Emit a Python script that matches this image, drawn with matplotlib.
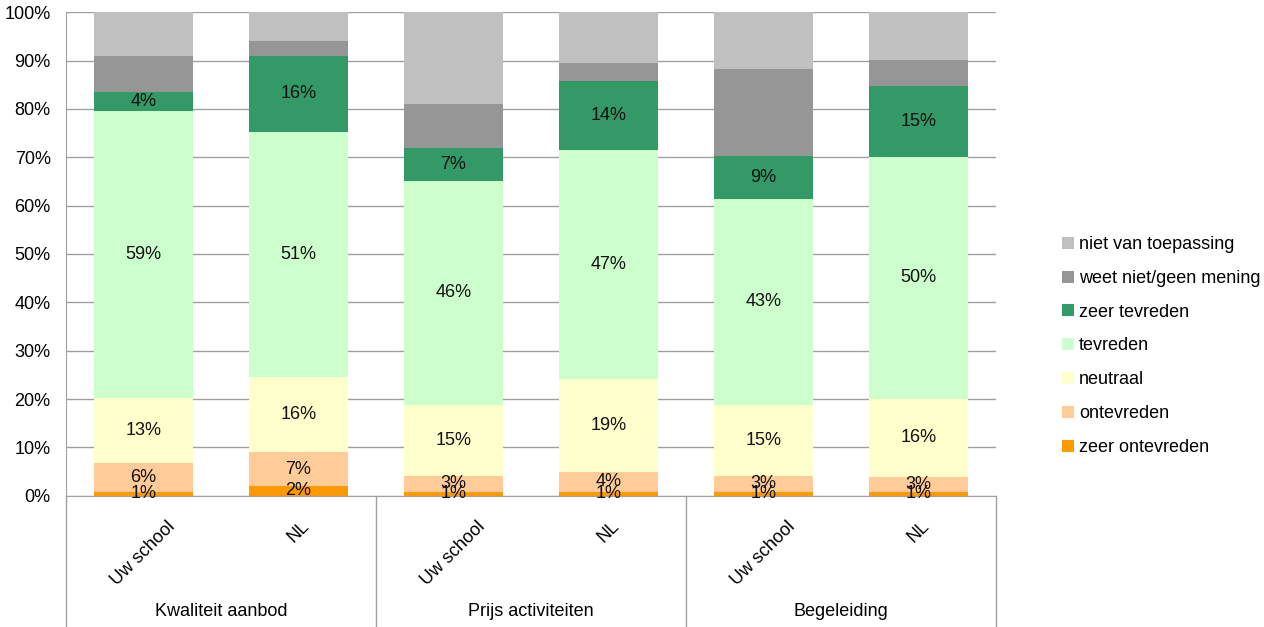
import matplotlib.pyplot as plt
from matplotlib.lines import Line2D

plt.rcParams['font.family'] = ['Liberation Sans', 'DejaVu Sans']

# data (percent)
groups = ["Kwaliteit aanbod", "Prijs activiteiten", "Begeleiding"]
bars = ["Uw school", "NL", "Uw school", "NL", "Uw school", "NL"]
series = ["zeer ontevreden", "ontevreden", "neutraal", "tevreden",
          "zeer tevreden", "weet niet/geen mening", "niet van toepassing"]
zeer_ontevreden = [0.8, 2.0, 0.8, 0.8, 0.8, 0.8]
ontevreden = [6.0, 7.0, 3.3, 4.1, 3.3, 3.1]
neutraal = [13.4, 15.6, 14.7, 19.2, 14.7, 16.1]
tevreden = [59.4, 50.6, 46.3, 47.5, 42.6, 50.1]
zeer_tevreden = [4.0, 15.8, 6.8, 14.1, 8.9, 14.7]
weet_niet = [7.4, 3.1, 9.1, 3.9, 17.9, 5.4]
niet_van_toepassing = [9.0, 5.9, 19.0, 10.4, 11.8, 9.8]

values = [zeer_ontevreden, ontevreden, neutraal, tevreden,
          zeer_tevreden, weet_niet, niet_van_toepassing]
colors = ["#FF9900", "#FFCC99", "#FFFFCC", "#CCFFCC",
          "#339966", "#969696", "#C0C0C0"]
labelled = 5  # only the first five series get data labels
fs = 13

W, H = 1264, 627
fig = plt.figure(figsize=(W / 100, H / 100), dpi=100)
ax = fig.add_axes([66 / W, (H - 495.7) / H, 930 / W, 483.4 / H])

x = list(range(len(bars)))
bottom = [0.0] * len(bars)
handles = []
for k, (name, vals, col) in enumerate(zip(series, values, colors)):
    b = ax.bar(x, vals, width=0.645, bottom=bottom, color=col,
               label=name, zorder=2)
    handles.append(b)
    if k < labelled:
        for i, v in enumerate(vals):
            # 47.5 would round up, the chart shows 47%
            ax.text(i, bottom[i] + v / 2, f"{int(v + 0.49):d}%", ha="center",
                    va="center", fontsize=fs, color="#111111", zorder=3)
    bottom = [bt + v for bt, v in zip(bottom, vals)]

ax.set_xlim(-0.5, 5.5)
ax.set_ylim(0, 100)
ax.set_yticks(range(0, 101, 10))
ax.set_yticklabels([f"{t}%" for t in range(0, 101, 10)], fontsize=fs)
ax.yaxis.grid(True, color="#A0A0A0", linewidth=1)
ax.set_axisbelow(True)
ax.tick_params(axis="y", length=0, pad=11)
ax.tick_params(axis="x", length=0)
ax.set_xticks([])
for s in ["top", "right"]:
    ax.spines[s].set_visible(False)
for s in ["left", "bottom"]:
    ax.spines[s].set_color("#A0A0A0")

# category labels below the axis
trans = ax.get_xaxis_transform()
for i, name in enumerate(bars):
    ax.text(i, -0.046, name, rotation=45, ha="center", va="top",
            fontsize=fs, transform=trans)
for g, name in enumerate(groups):
    ax.text(2 * g + 0.5, -0.24, name, ha="center", va="center",
            fontsize=fs, transform=trans)
for xb in [-0.5, 1.5, 3.5, 5.5]:
    ax.add_line(Line2D([xb, xb], [0, -0.28], transform=trans, color="#A0A0A0",
                       linewidth=1, clip_on=False))

leg = fig.legend(handles[::-1], series[::-1], loc="center left",
                 bbox_to_anchor=(1062 / W, 1 - 346 / H), frameon=False,
                 fontsize=fs, handlelength=0.65, handleheight=0.65,
                 handletextpad=0.3, labelspacing=0.93, borderpad=0,
                 borderaxespad=0)

fig.savefig("out.png", dpi=100)
